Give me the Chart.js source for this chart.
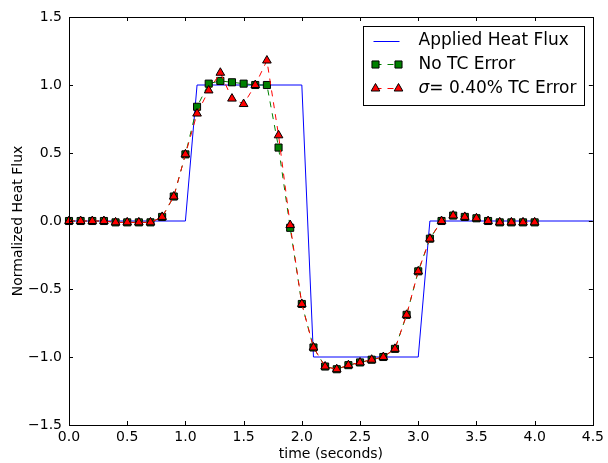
<!DOCTYPE html>
<html>
<head>
<meta charset="utf-8">
<script src="https://cdn.jsdelivr.net/npm/chart.js@4/dist/chart.umd.min.js"></script>
<style>
  html, body { margin: 0; padding: 0; background: #fff; }
  #wrap { width: 608px; height: 463px; }
</style>
</head>
<body>
<div id="wrap"><canvas id="fluxChart" width="608" height="463"></canvas></div>
<script>
// sample times (s) for the two estimated flux series
const times = [0.0, 0.1, 0.2, 0.3, 0.4, 0.5, 0.6, 0.7, 0.8, 0.9,
               1.0, 1.1, 1.2, 1.3, 1.4, 1.5, 1.6, 1.7, 1.8, 1.9,
               2.0, 2.1, 2.2, 2.3, 2.4, 2.5, 2.6, 2.7, 2.8, 2.9,
               3.0, 3.1, 3.2, 3.3, 3.4, 3.5, 3.6, 3.7, 3.8, 3.9, 4.0];

// estimate without thermocouple error
const noErr = [0.00, 0.00, 0.00, 0.00, -0.01, -0.01, -0.01, -0.01, 0.03, 0.18,
               0.49, 0.84, 1.01, 1.03, 1.02, 1.01, 1.00, 1.00, 0.54, -0.05,
               -0.61, -0.93, -1.07, -1.09, -1.06, -1.04, -1.02, -1.00, -0.94, -0.69,
               -0.37, -0.13, 0.00, 0.04, 0.03, 0.02, 0.00, -0.01, -0.01, -0.01, -0.01];

// estimate with 0.40% thermocouple noise
const withErr = [0.00, 0.00, 0.00, 0.00, -0.01, -0.01, -0.01, -0.01, 0.03, 0.18,
                 0.49, 0.79, 0.96, 1.09, 0.90, 0.86, 1.00, 1.18, 0.63, -0.03,
                 -0.61, -0.93, -1.07, -1.09, -1.06, -1.04, -1.02, -1.00, -0.94, -0.69,
                 -0.37, -0.13, 0.00, 0.04, 0.03, 0.02, 0.00, -0.01, -0.01, -0.01, -0.01];

// applied (true) heat flux, piecewise linear
const stepTimes = [0.0, 1.0, 1.1, 2.0, 2.1, 3.0, 3.1, 4.5];
const stepFlux  = [0, 0, 1, 1, -1, -1, 0, 0];

const xTicks = [0, 0.5, 1, 1.5, 2, 2.5, 3, 3.5, 4, 4.5];
const yTicks = [-1.5, -1.0, -0.5, 0.0, 0.5, 1.0, 1.5];

const legendLabels = ['Applied Heat Flux', 'No TC Error', '= 0.40% TC Error'];

const FONT = "'DejaVu Sans', 'Bitstream Vera Sans', sans-serif";

const fmt = v => v.toFixed(1).replace('-', '\u2212');
const pts = (xs, ys) => xs.map((x, i) => ({ x: x, y: ys[i] }));

// frame on all four sides with inward ticks, like a classic pylab axes
const frameTicks = {
  id: 'frameTicks',
  afterDatasetsDraw(chart) {
    const { ctx, chartArea: a, scales: { x, y } } = chart;
    const len = 4;
    ctx.save();
    ctx.strokeStyle = '#000';
    ctx.lineWidth = 1;
    ctx.beginPath();
    xTicks.forEach(v => {
      const px = Math.round(x.getPixelForValue(v)) + 0.5;
      ctx.moveTo(px, a.bottom); ctx.lineTo(px, a.bottom - len);
      ctx.moveTo(px, a.top); ctx.lineTo(px, a.top + len);
    });
    yTicks.forEach(v => {
      const py = Math.round(y.getPixelForValue(v)) + 0.5;
      ctx.moveTo(a.left, py); ctx.lineTo(a.left + len, py);
      ctx.moveTo(a.right, py); ctx.lineTo(a.right - len, py);
    });
    ctx.stroke();
    ctx.strokeRect(Math.round(a.left) + 0.5, Math.round(a.top) + 0.5,
                   Math.round(a.right - a.left), Math.round(a.bottom - a.top));
    ctx.restore();
  }
};

// boxed legend in the upper right, two markers per entry
const legendBox = {
  id: 'legendBox',
  afterDraw(chart) {
    const { ctx, chartArea: a } = chart;
    const bx = Math.round(a.right) - 229.5, by = Math.round(a.top) + 9.5;
    const bw = 221, bh = 79;
    ctx.save();
    ctx.fillStyle = '#fff';
    ctx.fillRect(bx, by, bw, bh);
    ctx.strokeStyle = '#000';
    ctx.lineWidth = 1;
    ctx.strokeRect(bx, by, bw, bh);

    const rows = [by + 14.5, by + 38, by + 62];
    const x1 = bx + 12, x2 = bx + 35;
    const tx = bx + 55;

    // applied flux: solid blue sample
    ctx.strokeStyle = '#0000ff';
    ctx.beginPath();
    ctx.moveTo(bx + 10, Math.round(rows[0]) + 0.5);
    ctx.lineTo(bx + 36, Math.round(rows[0]) + 0.5);
    ctx.stroke();

    const marked = [
      { y: rows[1], color: '#008000', style: 'rect' },
      { y: rows[2], color: '#ff0000', style: 'triangle' }
    ];
    marked.forEach(m => {
      ctx.strokeStyle = m.color;
      ctx.setLineDash([6, 6]);
      ctx.beginPath();
      ctx.moveTo(x1, m.y);
      ctx.lineTo(x2, m.y);
      ctx.stroke();
      ctx.setLineDash([]);
      ctx.fillStyle = m.color;
      ctx.strokeStyle = '#000';
      [x1, x2].forEach(px => Chart.helpers.drawPoint(ctx,
        { pointStyle: m.style, radius: 5, rotation: 0, borderWidth: 1 }, px, m.y));
    });

    ctx.fillStyle = '#000';
    ctx.textBaseline = 'middle';
    ctx.textAlign = 'left';
    ctx.font = '17px ' + FONT;
    ctx.fillText(legendLabels[0], tx, rows[0]);
    ctx.fillText(legendLabels[1], tx, rows[1]);
    ctx.font = 'italic 17px ' + FONT;
    ctx.fillText('\u03c3', tx, rows[2]);
    const sw = ctx.measureText('\u03c3').width;
    ctx.font = '17px ' + FONT;
    ctx.fillText(legendLabels[2], tx + sw, rows[2]);
    ctx.restore();
  }
};

new Chart(document.getElementById('fluxChart'), {
  type: 'line',
  data: {
    datasets: [
      {
        label: legendLabels[0],
        data: pts(stepTimes, stepFlux),
        borderColor: '#0000ff',
        borderWidth: 1,
        pointRadius: 0,
        tension: 0,
        order: 3
      },
      {
        label: legendLabels[1],
        data: pts(times, noErr),
        borderColor: '#008000',
        borderWidth: 1,
        borderDash: [6, 6],
        pointStyle: 'rect',
        pointRadius: 5,
        pointBackgroundColor: '#008000',
        pointBorderColor: '#000',
        pointBorderWidth: 1,
        clip: false,
        order: 2
      },
      {
        label: '\u03c3' + legendLabels[2],
        data: pts(times, withErr),
        borderColor: '#ff0000',
        borderWidth: 1,
        borderDash: [6, 6],
        pointStyle: 'triangle',
        pointRadius: 5,
        pointBackgroundColor: '#ff0000',
        pointBorderColor: '#000',
        pointBorderWidth: 1,
        clip: false,
        order: 1
      }
    ]
  },
  options: {
    responsive: false,
    animation: false,
    layout: { padding: { top: 17, right: 12, left: 0, bottom: 0 } },
    plugins: { legend: { display: false }, tooltip: { enabled: false } },
    scales: {
      x: {
        type: 'linear',
        min: 0,
        max: 4.5,
        afterBuildTicks: s => { s.ticks = xTicks.map(v => ({ value: v })); },
        afterFit: s => { s.height = 38; },
        ticks: {
          callback: v => fmt(v),
          color: '#000',
          font: { family: FONT, size: 14 },
          padding: 4,
          maxRotation: 0,
          autoSkip: false
        },
        grid: { display: false, drawTicks: false },
        border: { display: false },
        title: {
          display: true,
          text: 'time (seconds)',
          color: '#000',
          font: { family: FONT, size: 14 },
          padding: { top: 0, bottom: 0 }
        }
      },
      y: {
        type: 'linear',
        min: -1.5,
        max: 1.5,
        afterBuildTicks: s => { s.ticks = yTicks.map(v => ({ value: v })); },
        afterFit: s => { s.width = 69; },
        ticks: {
          callback: v => fmt(v),
          color: '#000',
          font: { family: FONT, size: 14 },
          padding: 7
        },
        grid: { display: false, drawTicks: false },
        border: { display: false },
        title: {
          display: true,
          text: 'Normalized Heat Flux',
          color: '#000',
          font: { family: FONT, size: 14 },
          padding: { top: 10, bottom: 0 }
        }
      }
    }
  },
  plugins: [frameTicks, legendBox]
});
</script>
</body>
</html>
